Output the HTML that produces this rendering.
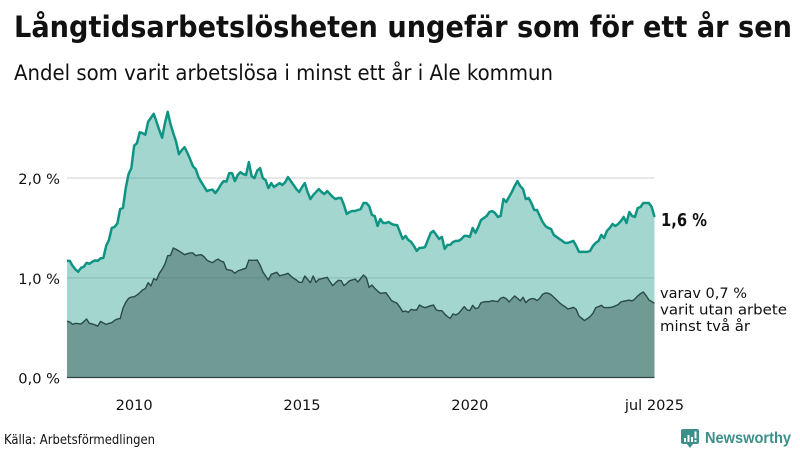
<!DOCTYPE html>
<html lang="sv">
<head>
<meta charset="utf-8">
<title>Långtidsarbetslösheten</title>
<style>
html,body{margin:0;padding:0;background:#fff;width:800px;height:450px;overflow:hidden}
svg{display:block}
text{font-family:"DejaVu Sans","Liberation Sans",sans-serif;fill:#111}
</style>
</head>
<body>
<svg id="chart" xmlns="http://www.w3.org/2000/svg" width="800" height="450" viewBox="0 0 800 450">
  <text x="14" y="37" font-size="29" font-weight="700" textLength="778" lengthAdjust="spacingAndGlyphs">Långtidsarbetslösheten ungefär som för ett år sen</text>
  <text x="14" y="80" font-size="21" textLength="539" lengthAdjust="spacingAndGlyphs">Andel som varit arbetslösa i minst ett år i Ale kommun</text>
  <g id="grid"></g>
  <g id="marks"></g>
  <g id="yaxis"></g>
  <g id="xaxis"></g>
  <text x="661" y="226" font-size="18" font-weight="700" textLength="46" lengthAdjust="spacingAndGlyphs">1,6 %</text>
  <text x="660" y="298" font-size="14.5" textLength="87" lengthAdjust="spacingAndGlyphs">varav 0,7 %</text>
  <text x="660" y="314.5" font-size="14.5" textLength="127" lengthAdjust="spacingAndGlyphs">varit utan arbete</text>
  <text x="660" y="331" font-size="14.5" textLength="90" lengthAdjust="spacingAndGlyphs">minst två år</text>
  <text x="4" y="444" font-size="13.5" textLength="151" lengthAdjust="spacingAndGlyphs">Källa: Arbetsförmedlingen</text>
  <g>
    <path d="M683 429h14a2 2 0 0 1 2 2v11a2 2 0 0 1-2 2h-4l-3 4-3-4h-4a2 2 0 0 1-2-2v-11a2 2 0 0 1 2-2z" fill="#3d8f8a"/>
    <rect x="684" y="438" width="2" height="4" fill="#fff"/>
    <rect x="687.5" y="435" width="2" height="7" fill="#fff"/>
    <rect x="691" y="437" width="2" height="5" fill="#fff"/>
    <rect x="694.5" y="431.5" width="2" height="7" fill="#fff"/>
    <rect x="694.5" y="440" width="2" height="2" fill="#fff"/>
    <text x="705" y="443" font-size="15.5" font-weight="700" textLength="86" lengthAdjust="spacingAndGlyphs" style="fill:#3d8f8a;font-family:'Liberation Sans',sans-serif">Newsworthy</text>
  </g>
</svg>
<script>
const startDate = "2008-01";
const endDate = "2025-07";
const yTickValues = [0, 1, 2];
const yTickLabels = ["0,0 %", "1,0 %", "2,0 %"];
const xTickDates = ["2010-01", "2015-01", "2020-01", "2025-07"];
const xTickLabels = ["2010", "2015", "2020", "jul 2025"];
const totalShare = [
1.17,1.17,1.12,1.085,1.06,1.10,1.11,1.15,1.14,1.16,
1.175,1.17,1.195,1.20,1.32,1.38,1.50,1.51,1.545,1.69,
1.70,1.90,2.04,2.10,2.325,2.35,2.46,2.45,2.435,2.565,
2.605,2.645,2.565,2.48,2.405,2.55,2.665,2.54,2.45,2.365,
2.24,2.28,2.31,2.255,2.19,2.12,2.09,2.01,1.96,1.915,
1.87,1.88,1.885,1.85,1.885,1.935,1.97,1.965,2.05,2.05,
1.97,2.03,2.06,2.04,2.03,2.16,2.02,2.00,2.075,2.10,
2.00,1.98,1.90,1.95,1.91,1.93,1.95,1.93,1.96,2.01,
1.97,1.93,1.89,1.86,1.91,1.95,1.86,1.79,1.83,1.86,
1.89,1.86,1.84,1.87,1.84,1.81,1.79,1.80,1.80,1.73,
1.64,1.66,1.67,1.67,1.68,1.69,1.75,1.75,1.72,1.63,
1.62,1.52,1.59,1.55,1.55,1.56,1.54,1.53,1.53,1.46,
1.39,1.42,1.38,1.36,1.32,1.27,1.30,1.30,1.31,1.38,
1.45,1.47,1.43,1.39,1.41,1.29,1.33,1.33,1.36,1.37,
1.37,1.39,1.42,1.42,1.41,1.50,1.45,1.51,1.58,1.60,
1.62,1.66,1.67,1.65,1.61,1.62,1.79,1.76,1.81,1.86,
1.92,1.97,1.92,1.89,1.79,1.80,1.75,1.68,1.68,1.62,
1.56,1.52,1.50,1.49,1.43,1.41,1.39,1.37,1.35,1.35,
1.36,1.37,1.32,1.26,1.26,1.26,1.26,1.27,1.32,1.35,
1.37,1.43,1.40,1.47,1.50,1.54,1.52,1.54,1.57,1.61,
1.55,1.66,1.62,1.61,1.70,1.71,1.75,1.75,1.75,1.71,
1.61];
const longTermShare = [
.563,.557,.533,.543,.54,.537,.56,.587,.543,.537,
.527,.516,.563,.547,.533,.543,.55,.573,.587,.59,
.694,.754,.794,.807,.81,.827,.85,.878,.891,.951,
.918,.991,.978,1.045,1.085,1.138,1.222,1.225,1.299,1.285,
1.269,1.252,1.232,1.242,1.249,1.249,1.222,1.229,1.232,1.212,
1.178,1.162,1.152,1.172,1.188,1.168,1.158,1.085,1.078,1.071,
1.045,1.068,1.078,1.088,1.098,1.178,1.175,1.175,1.178,1.128,
1.06,1.018,.978,1.035,1.045,1.055,1.02,1.028,1.035,1.045,
1.018,.995,.978,.955,.955,1.018,.985,.951,1.018,.955,
.985,.991,.998,1.005,.961,.921,.951,.975,.971,.921,
.944,.971,.978,.988,.958,.995,1.028,1.001,.904,.928,
.894,.868,.844,.848,.851,.811,.771,.757,.744,.704,
.66,.667,.654,.684,.677,.677,.727,.71,.70,.71,
.72,.727,.677,.67,.67,.637,.61,.594,.638,.627,
.644,.678,.711,.678,.671,.724,.691,.698,.751,.758,
.761,.761,.771,.765,.761,.795,.805,.791,.758,.788,
.818,.795,.768,.805,.751,.778,.791,.791,.771,.795,
.835,.848,.845,.831,.805,.778,.751,.728,.711,.688,
.694,.704,.684,.617,.594,.571,.591,.611,.644,.701,
.711,.724,.701,.701,.701,.708,.718,.731,.758,.765,
.771,.775,.768,.788,.818,.841,.858,.821,.778,.761,
.744];

const NS = "http://www.w3.org/2000/svg";
function monthIndex(d) {
  const p = d.split("-");
  return (+p[0]) * 12 + (+p[1]) - 1;
}
const m0 = monthIndex(startDate);
const m1 = monthIndex(endDate);
const plotLeft = 67, plotRight = 654.5, plotBottom = 377.5, unitHeight = 99.7;
function xScale(monthsFromStart) {
  return plotLeft + (plotRight - plotLeft) * monthsFromStart / (m1 - m0);
}
function yScale(v) {
  return plotBottom - v * unitHeight;
}
function make(tag, attrs) {
  const el = document.createElementNS(NS, tag);
  for (const k in attrs) el.setAttribute(k, attrs[k]);
  return el;
}
function linePath(values) {
  return values.map((v, i) => (i ? "L" : "M") + xScale(i).toFixed(2) + " " + yScale(v).toFixed(2)).join("");
}
function areaPath(values) {
  return linePath(values) + "L" + xScale(values.length - 1).toFixed(2) + " " + yScale(0) + "L" + xScale(0) + " " + yScale(0) + "Z";
}

const grid = document.getElementById("grid");
const marks = document.getElementById("marks");
const yaxis = document.getElementById("yaxis");
const xaxis = document.getElementById("xaxis");

yTickValues.forEach((v, i) => {
  if (v !== 0) {
    const g = make("line", {x1: plotLeft, x2: plotRight, y1: yScale(v), y2: yScale(v), stroke: "#e2e2e6", "stroke-width": 1.6});
    
    
    grid.appendChild(g);
  }
  const t = make("text", {x: 60, y: yScale(v) + 6, "text-anchor": "end", "font-size": 14.6});
  
  
  t.textContent = yTickLabels[i];
  yaxis.appendChild(t);
});

xTickDates.forEach((d, i) => {
  const last = i === xTickDates.length - 1;
  const t = make("text", {x: last ? 684 : xScale(monthIndex(d) - m0), y: 410, "text-anchor": last ? "end" : "middle", "font-size": 14.6});
  
  
  t.textContent = xTickLabels[i];
  xaxis.appendChild(t);
});

const totalArea = make("path", {d: areaPath(totalShare), fill: "#0f9484", "fill-opacity": 0.38});


marks.appendChild(totalArea);

const totalLine = make("path", {d: linePath(totalShare), fill: "none", stroke: "#0f9484", "stroke-width": 2.5, "stroke-linejoin": "round"});


marks.appendChild(totalLine);

const subsetArea = make("path", {d: areaPath(longTermShare), fill: "#3b5f58", "fill-opacity": 0.5});


marks.appendChild(subsetArea);

const subsetLine = make("path", {d: linePath(longTermShare), fill: "none", stroke: "#2a4a47", "stroke-width": 1.4, "stroke-linejoin": "round"});


marks.appendChild(subsetLine);

const baseline = make("line", {x1: plotLeft, x2: plotRight, y1: yScale(0), y2: yScale(0), stroke: "#2f4543", "stroke-width": 1.2});


marks.appendChild(baseline);
</script>
</body>
</html>
